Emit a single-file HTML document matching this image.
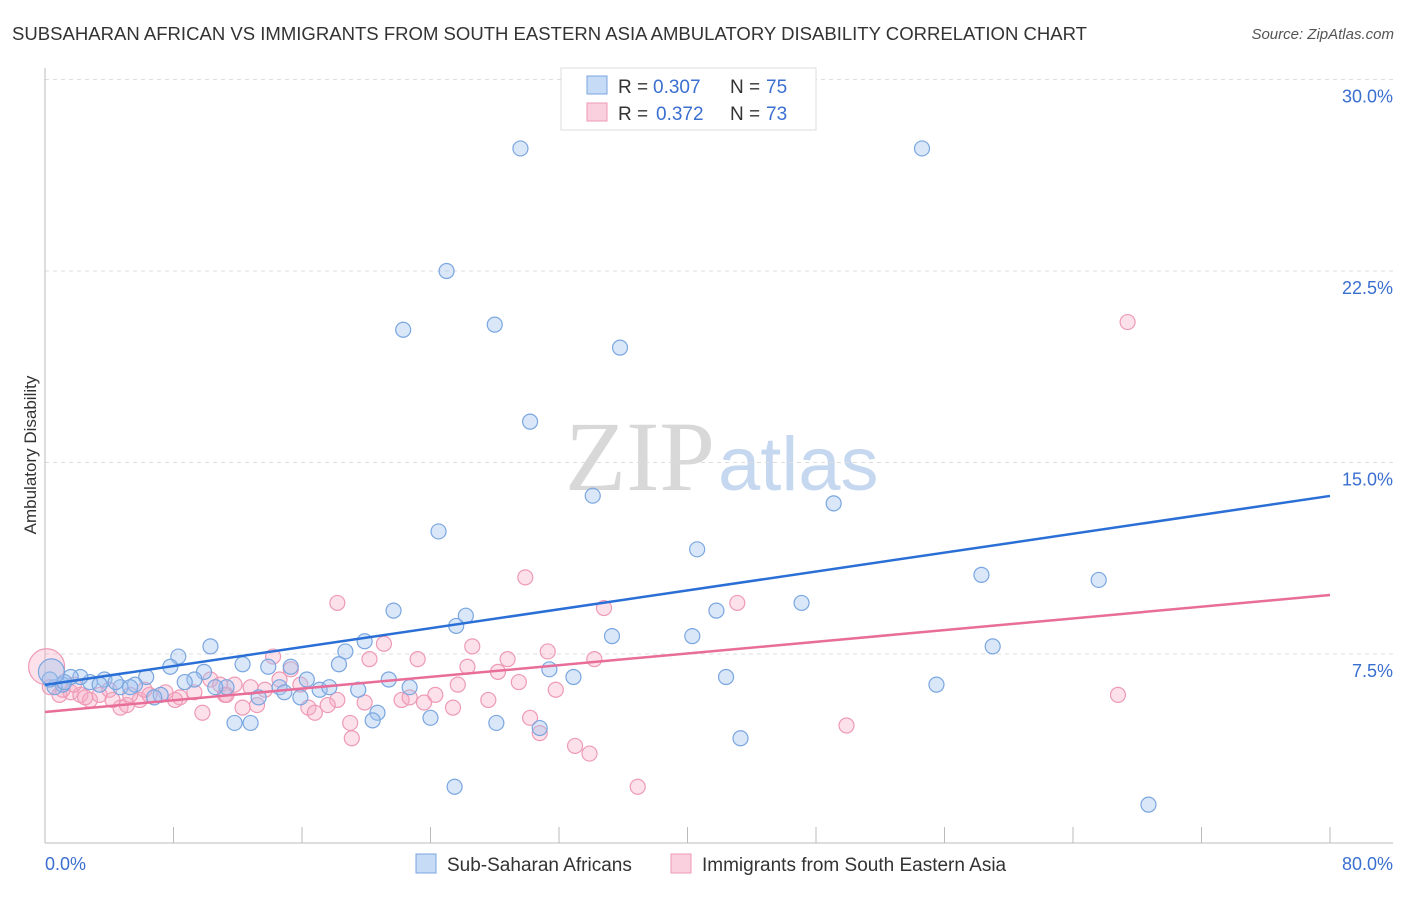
<!DOCTYPE html>
<html><head><meta charset="utf-8"><style>
body{margin:0;background:#fff;font-family:"Liberation Sans",sans-serif;}
svg text{font-family:"Liberation Sans",sans-serif;}
</style></head><body>
<svg id="chart" width="1406" height="892" xmlns="http://www.w3.org/2000/svg">
<text x="12" y="40" font-size="18" fill="#333" textLength="1075" lengthAdjust="spacingAndGlyphs">SUBSAHARAN AFRICAN VS IMMIGRANTS FROM SOUTH EASTERN ASIA AMBULATORY DISABILITY CORRELATION CHART</text>
<text x="1394" y="39" font-size="15" fill="#555" text-anchor="end" font-style="italic">Source: ZipAtlas.com</text>
<g>
<text x="715" y="490" font-size="100" fill="#d8d8d8" text-anchor="end" style="font-family:'Liberation Serif',serif">ZIP</text>
<text x="718" y="490" font-size="76" fill="#c5d8f0">atlas</text>
</g>
<g id="grid"></g>
<g id="axes"></g>
<g id="pinkPts"></g>
<g id="bluePts"></g>
<g id="lines"></g>
<text x="36" y="455" font-size="17" fill="#333" text-anchor="middle" transform="rotate(-90 36 455)">Ambulatory Disability</text>
<text x="45" y="870" font-size="18" fill="#3a6fd0">0.0%</text>
<text x="1393" y="870" font-size="18" fill="#3a6fd0" text-anchor="end">80.0%</text>
<g>
<rect x="561" y="68" width="255" height="62" fill="#fff" stroke="#ddd"/>
<rect x="587" y="76" width="20" height="18" fill="rgba(160,195,240,0.6)" stroke="#7aa6e0"/>
<rect x="587" y="103" width="20" height="18" fill="rgba(245,170,195,0.55)" stroke="#ee9ab5"/>
<text x="618" y="93" font-size="19" fill="#333">R =</text>
<text x="653" y="93" font-size="19" fill="#3a6fd0">0.307</text>
<text x="730" y="93" font-size="19" fill="#333">N =</text>
<text x="766" y="93" font-size="19" fill="#3a6fd0">75</text>
<text x="618" y="120" font-size="19" fill="#333">R =</text>
<text x="656" y="120" font-size="19" fill="#3a6fd0">0.372</text>
<text x="730" y="120" font-size="19" fill="#333">N =</text>
<text x="766" y="120" font-size="19" fill="#3a6fd0">73</text>
</g>
<g>
<rect x="416" y="854" width="20" height="19" fill="rgba(160,195,240,0.6)" stroke="#7aa6e0"/>
<text x="447" y="871" font-size="19" fill="#333">Sub-Saharan Africans</text>
<rect x="671" y="854" width="20" height="19" fill="rgba(245,170,195,0.55)" stroke="#ee9ab5"/>
<text x="702" y="871" font-size="19" fill="#333">Immigrants from South Eastern Asia</text>
</g>
</svg>
<script>
const yTicks=[7.5,15.0,22.5,30.0];
const yTickLabels=["7.5%","15.0%","22.5%","30.0%"];
const xTicks=[0,8,16,24,32,40,48,56,64,72,80];
const blueX=[29.6,54.6,25,22.3,28,35.8,30.2,34.1,49.1,24.5,40.6,58.3,65.6,21.7,26.2,41.8,47.1,25.6,35.3,40.3,59,10.3,19.9,18.7,8.3,7.8,12.3,13.9,15.3,18.3,31.4,32.9,42.4,55.5,21.4,22.7,19.5,16.3,14.6,11.3,9.9,9.3,6.3,5.6,4.7,3.7,2.8,2.2,1.6,1.1,0.6,0.3,7.2,6.8,8.7,13.3,15.9,17.1,17.7,20.7,20.4,24,28.1,30.8,11.8,12.8,43.3,25.5,68.7,4.4,5.3,1.2,3.4,14.9,10.6,0.4];
const blueY=[27.3,27.3,22.5,20.2,20.4,19.5,16.6,13.7,13.4,12.3,11.6,10.6,10.4,9.2,9.0,9.2,9.5,8.6,8.2,8.2,7.8,7.8,8.0,7.6,7.4,7.0,7.1,7.0,7.0,7.1,6.9,6.6,6.6,6.3,6.5,6.2,6.1,6.5,6.2,6.2,6.8,6.5,6.6,6.3,6.2,6.5,6.4,6.6,6.6,6.3,6.2,6.5,5.9,5.8,6.4,5.8,5.8,6.1,6.2,5.2,4.9,5.0,4.8,4.6,4.8,4.8,4.2,2.3,1.6,6.4,6.2,6.4,6.3,6.0,6.2,6.8];
const blueR=[7.5,7.5,7.5,7.5,7.5,7.5,7.5,7.5,7.5,7.5,7.5,7.5,7.5,7.5,7.5,7.5,7.5,7.5,7.5,7.5,7.5,7.5,7.5,7.5,7.5,7.5,7.5,7.5,7.5,7.5,7.5,7.5,7.5,7.5,7.5,7.5,7.5,7.5,7.5,7.5,7.5,7.5,7.5,7.5,7.5,7.5,7.5,7.5,7.5,7.5,7.5,7.5,7.5,7.5,7.5,7.5,7.5,7.5,7.5,7.5,7.5,7.5,7.5,7.5,7.5,7.5,7.5,7.5,7.5,7.5,7.5,7.5,7.5,7.5,7.5,13];
const pinkX=[67.4,29.9,18.2,34.8,43.1,21.1,26.6,31.3,34.2,20.2,23.2,28.8,14.2,15.3,26.3,28.2,29.5,25.7,31.8,24.3,22.2,22.7,23.6,25.4,27.6,18.2,19.9,17.6,16.4,16.8,19,19.1,30.2,30.8,33,33.9,36.9,49.9,66.8,0.1,0.3,0.9,1.6,2.2,2.8,3.4,4,4.7,5.1,5.9,6.5,7.5,8.4,9.3,9.8,10.3,10.9,11.2,11.8,12.3,12.8,13.2,13.7,14.6,15.9,11.3,6.2,4.2,2.5,5.3,8.1,1.1,1.8];
const pinkY=[20.5,10.5,9.5,9.3,9.5,7.9,7.8,7.6,7.3,7.3,7.3,7.3,7.4,6.9,7.0,6.8,6.4,6.3,6.1,5.9,5.7,5.8,5.6,5.4,5.7,5.7,5.6,5.5,5.4,5.2,4.8,4.2,5.0,4.4,3.9,3.6,2.3,4.7,5.9,7.0,6.2,5.9,6.0,5.9,5.7,5.9,6.1,5.4,5.5,5.7,5.9,6.0,5.8,6.0,5.2,6.5,6.3,5.9,6.3,5.4,6.2,5.5,6.1,6.5,6.3,5.9,6.1,5.7,5.8,5.9,5.7,6.1,6.3];
const pinkR=[7.5,7.5,7.5,7.5,7.5,7.5,7.5,7.5,7.5,7.5,7.5,7.5,7.5,7.5,7.5,7.5,7.5,7.5,7.5,7.5,7.5,7.5,7.5,7.5,7.5,7.5,7.5,7.5,7.5,7.5,7.5,7.5,7.5,7.5,7.5,7.5,7.5,7.5,7.5,18,7.5,7.5,7.5,7.5,7.5,7.5,7.5,7.5,7.5,7.5,7.5,7.5,7.5,7.5,7.5,7.5,7.5,7.5,7.5,7.5,7.5,7.5,7.5,7.5,7.5,7.5,7.5,7.5,7.5,7.5,7.5,7.5,7.5];
const blueFit=[6.29,13.69];
const pinkFit=[5.23,9.81];
const NS="http://www.w3.org/2000/svg";
const X=v=>45+v*(1285/80);
const Y=v=>845.5-v*(191.5/7.5);
function mk(tag,attrs,parent){const e=document.createElementNS(NS,tag);for(const k in attrs)e.setAttribute(k,attrs[k]);document.getElementById(parent).appendChild(e);return e;}
yTicks.forEach((t,i)=>{
 const g=mk('line',{x1:45,x2:1393,y1:Y(t),y2:Y(t),stroke:'#ddd','stroke-dasharray':'4,4'},'grid');
 
 
 const tx=mk('text',{x:1393,y:Y(t)+23,'font-size':18,fill:'#3a6fd0','text-anchor':'end'},'grid');
 tx.textContent=yTickLabels[i];
 
 
});
const ax1=mk('line',{x1:45,x2:45,y1:68,y2:843,stroke:'#bbb'},'axes');


const ax2=mk('line',{x1:45,x2:1393,y1:843,y2:843,stroke:'#bbb'},'axes');


xTicks.forEach(t=>{
 const l=mk('line',{x1:X(t),x2:X(t),y1:827,y2:843,stroke:'#bbb'},'axes');
 
 
});
pinkX.forEach((v,i)=>{
 const c=mk('circle',{cx:X(v),cy:Y(pinkY[i]),r:pinkR[i],fill:'rgba(245,170,195,0.35)',stroke:'#ee9ab5','stroke-width':1.2},'pinkPts');
 
 
});
blueX.forEach((v,i)=>{
 const c=mk('circle',{cx:X(v),cy:Y(blueY[i]),r:blueR[i],fill:'rgba(160,195,240,0.4)',stroke:'#7aa6e0','stroke-width':1.2},'bluePts');
 
 
});
const bl=mk('line',{x1:X(0),y1:Y(blueFit[0]),x2:X(80),y2:Y(blueFit[1]),stroke:'#2a6fd6','stroke-width':2.5},'lines');


const pl=mk('line',{x1:X(0),y1:Y(pinkFit[0]),x2:X(80),y2:Y(pinkFit[1]),stroke:'#e86d98','stroke-width':2.5},'lines');


</script>
</body></html>
